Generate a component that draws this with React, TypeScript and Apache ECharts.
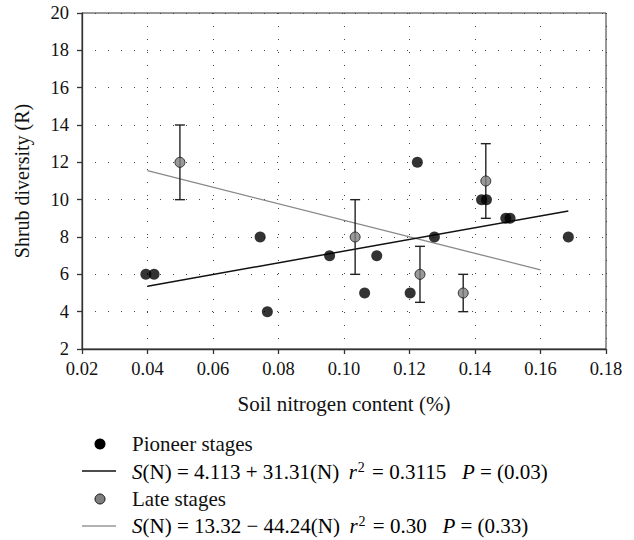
import React, { useEffect, useRef } from "react";
import * as echarts from "echarts";

const xTicksMin = 0.02;
const xTicksMax = 0.18;
const xStep = 0.02;
const yMin = 2;
const yMax = 20;
const yStep = 2;

const pioneerX = [0.0395, 0.042, 0.0744, 0.0766, 0.0956, 0.1063, 0.11, 0.1202, 0.1224, 0.1276, 0.142, 0.1435, 0.1494, 0.1507, 0.1685];
const pioneerY = [6, 6, 8, 4, 7, 5, 7, 5, 12, 8, 10, 10, 9, 9, 8];

const lateX = [0.0499, 0.1034, 0.1232, 0.1364, 0.1433];
const lateY = [12, 8, 6, 5, 11];
const lateLow = [10, 6, 4.5, 4, 9];
const lateHigh = [14, 10, 7.5, 6, 13];

const pioneerFit = [
  [0.04, 5.365],
  [0.1685, 9.39],
];
const lateFit = [
  [0.04, 11.55],
  [0.16, 6.24],
];

const legendNames = ["Pioneer stages", "Late stages"];
const pioneerEq = { a: "4.113", op: "+", b: "31.31", r2: "0.3115", p: "(0.03)" };
const lateEq = { a: "13.32", op: "\u2212", b: "44.24", r2: "0.30", p: "(0.33)" };

const FONT = "'Liberation Serif', 'DejaVu Serif', serif";
const LFS = 21;

function eqText(e: typeof pioneerEq) {
  return (
    "{i|S}{n|(N) = " +
    e.a +
    " " +
    e.op +
    " " +
    e.b +
    "(N)\u2009 }{i|r}{sup|2}{n| = " +
    e.r2 +
    "   }{i|P}{n| = " +
    e.p +
    "}"
  );
}

const rich = {
  n: { fontFamily: FONT, fontSize: LFS, color: "#111" },
  i: { fontFamily: FONT, fontSize: LFS, fontStyle: "italic", color: "#111" },
  sup: { fontFamily: FONT, fontSize: 14, color: "#111", padding: [0, 2, 10, 1] },
};

export default function App() {
  const ref = useRef<HTMLDivElement>(null);
  useEffect(() => {
    if (!ref.current) return;
    const chart = echarts.init(ref.current, null, { renderer: "svg" });
    const dotted = { color: "#444", width: 1, type: [1, 12] as number[] };
    const option: any = {
      animation: false,
      backgroundColor: "#fff",
      grid: {
        left: 82,
        right: 28,
        top: 13,
        bottom: 191,
        show: true,
        borderColor: "#333",
        borderWidth: 1,
        backgroundColor: "transparent",
      },
      xAxis: {
        type: "value",
        min: xTicksMin,
        max: xTicksMax,
        interval: xStep,
        name: "Soil nitrogen content (%)",
        nameLocation: "middle",
        nameGap: 44,
        nameTextStyle: { fontFamily: FONT, fontSize: 21, color: "#111" },
        axisLine: { show: true, lineStyle: { color: "#333", width: 1.3 } },
        axisTick: { show: true, length: 5, lineStyle: { color: "#333", width: 1.3 } },
        axisLabel: {
          fontFamily: FONT,
          fontSize: 18.5,
          color: "#111",
          margin: 10,
          formatter: (v: number) => v.toFixed(2),
        },
        splitLine: { show: true, lineStyle: dotted },
      },
      yAxis: {
        type: "value",
        min: yMin,
        max: yMax,
        interval: yStep,
        name: "Shrub diversity (R)",
        nameLocation: "middle",
        nameGap: 50,
        nameTextStyle: { fontFamily: FONT, fontSize: 20, color: "#111" },
        axisLine: { show: true, lineStyle: { color: "#333", width: 1.3 } },
        axisTick: { show: true, length: 5, lineStyle: { color: "#333", width: 1.3 } },
        axisLabel: { fontFamily: FONT, fontSize: 18.5, color: "#111", margin: 13 },
        splitLine: { show: true, lineStyle: dotted },
      },
      series: [
        {
          type: "line",
          data: lateFit,
          showSymbol: false,
          symbol: "none",
          lineStyle: { color: "#888", width: 1.3 },
          z: 2,
        },
        {
          type: "line",
          data: pioneerFit,
          showSymbol: false,
          symbol: "none",
          lineStyle: { color: "#111", width: 1.5 },
          z: 2,
        },
        {
          type: "custom",
          z: 3,
          data: lateX.map((x, i) => [x, lateLow[i], lateHigh[i]]),
          renderItem: (params: any, api: any) => {
            const x = api.value(0);
            const lo = api.coord([x, api.value(1)]);
            const hi = api.coord([x, api.value(2)]);
            const w = 5;
            const style = { stroke: "#222", lineWidth: 1.4 };
            return {
              type: "group",
              children: [
                { type: "line", shape: { x1: lo[0], y1: lo[1], x2: hi[0], y2: hi[1] }, style },
                { type: "line", shape: { x1: lo[0] - w, y1: lo[1], x2: lo[0] + w, y2: lo[1] }, style },
                { type: "line", shape: { x1: hi[0] - w, y1: hi[1], x2: hi[0] + w, y2: hi[1] }, style },
              ],
            };
          },
        },
        {
          type: "scatter",
          name: legendNames[1],
          data: lateX.map((x, i) => [x, lateY[i]]),
          symbol: "circle",
          symbolSize: 10,
          itemStyle: { color: "#7f7f7f", borderColor: "#111", borderWidth: 1 },
          z: 4,
        },
        {
          type: "scatter",
          name: legendNames[0],
          data: pioneerX.map((x, i) => [x, pioneerY[i]]),
          symbol: "circle",
          symbolSize: 11,
          itemStyle: { color: "#000" },
          z: 5,
        },
      ],
      graphic: [
        { type: "circle", shape: { cx: 100, cy: 444, r: 5.5 }, style: { fill: "#000" } },
        {
          type: "text",
          x: 132,
          y: 444,
          style: { text: legendNames[0], fontFamily: FONT, fontSize: LFS, fill: "#111", verticalAlign: "middle" },
        },
        { type: "line", shape: { x1: 82, y1: 471, x2: 116, y2: 471 }, style: { stroke: "#111", lineWidth: 1.5 } },
        {
          type: "text",
          x: 132,
          y: 472,
          style: { text: eqText(pioneerEq), rich, verticalAlign: "middle", fontFamily: FONT, fontSize: LFS },
        },
        {
          type: "circle",
          shape: { cx: 100, cy: 499, r: 5 },
          style: { fill: "#7f7f7f", stroke: "#111", lineWidth: 1 },
        },
        {
          type: "text",
          x: 132,
          y: 499,
          style: { text: legendNames[1], fontFamily: FONT, fontSize: LFS, fill: "#111", verticalAlign: "middle" },
        },
        { type: "line", shape: { x1: 82, y1: 526, x2: 116, y2: 526 }, style: { stroke: "#999", lineWidth: 1.5 } },
        {
          type: "text",
          x: 132,
          y: 526,
          style: { text: eqText(lateEq), rich, verticalAlign: "middle", fontFamily: FONT, fontSize: LFS },
        },
      ],
    };
    chart.setOption(option);
    return () => chart.dispose();
  }, []);
  return (
    <div
      ref={ref}
      style={{ position: "absolute", left: 0, top: 0, width: 634, height: 540 }}
    />
  );
}
